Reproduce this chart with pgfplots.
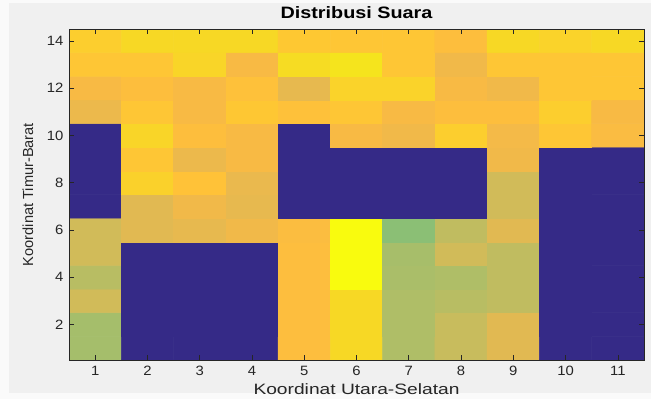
\documentclass[border=0pt]{standalone}
\usepackage{pgfplots}
\pgfplotsset{compat=1.18}
\usepackage{fontspec}
\setmainfont{Liberation Sans}
\usepackage{graphicx}
\definecolor{figbg}{RGB}{240,240,240}
\definecolor{figwhite}{RGB}{250,250,250}
\definecolor{axc}{rgb}{0.15,0.15,0.15}
\pgfplotsset{colormap={parula}{
rgb=(0.2081,0.1663,0.5292) rgb=(0.2116,0.1898,0.5777) rgb=(0.2123,0.2138,0.6270) rgb=(0.2081,0.2386,0.6771)
rgb=(0.1959,0.2645,0.7279) rgb=(0.1707,0.2919,0.7792) rgb=(0.1253,0.3242,0.8303) rgb=(0.0591,0.3598,0.8683)
rgb=(0.0117,0.3875,0.8820) rgb=(0.0060,0.4086,0.8828) rgb=(0.0165,0.4266,0.8786) rgb=(0.0329,0.4430,0.8720)
rgb=(0.0498,0.4586,0.8641) rgb=(0.0629,0.4737,0.8554) rgb=(0.0723,0.4887,0.8467) rgb=(0.0779,0.5040,0.8384)
rgb=(0.0793,0.5200,0.8312) rgb=(0.0749,0.5375,0.8263) rgb=(0.0641,0.5570,0.8240) rgb=(0.0488,0.5772,0.8228)
rgb=(0.0343,0.5966,0.8199) rgb=(0.0265,0.6137,0.8135) rgb=(0.0239,0.6287,0.8038) rgb=(0.0231,0.6418,0.7913)
rgb=(0.0228,0.6535,0.7768) rgb=(0.0267,0.6642,0.7607) rgb=(0.0384,0.6743,0.7436) rgb=(0.0590,0.6838,0.7254)
rgb=(0.0843,0.6928,0.7062) rgb=(0.1133,0.7015,0.6859) rgb=(0.1453,0.7098,0.6646) rgb=(0.1801,0.7177,0.6424)
rgb=(0.2178,0.7250,0.6193) rgb=(0.2586,0.7317,0.5954) rgb=(0.3022,0.7376,0.5712) rgb=(0.3482,0.7424,0.5473)
rgb=(0.3953,0.7459,0.5244) rgb=(0.4420,0.7481,0.5033) rgb=(0.4871,0.7491,0.4840) rgb=(0.5300,0.7491,0.4661)
rgb=(0.5709,0.7485,0.4494) rgb=(0.6099,0.7473,0.4337) rgb=(0.6473,0.7456,0.4188) rgb=(0.6834,0.7435,0.4044)
rgb=(0.7184,0.7411,0.3905) rgb=(0.7525,0.7384,0.3768) rgb=(0.7858,0.7356,0.3633) rgb=(0.8185,0.7327,0.3498)
rgb=(0.8507,0.7299,0.3360) rgb=(0.8824,0.7274,0.3217) rgb=(0.9139,0.7258,0.3063) rgb=(0.9450,0.7261,0.2886)
rgb=(0.9739,0.7314,0.2666) rgb=(0.9938,0.7455,0.2403) rgb=(0.9990,0.7653,0.2164) rgb=(0.9955,0.7861,0.1967)
rgb=(0.9880,0.8066,0.1794) rgb=(0.9789,0.8271,0.1633) rgb=(0.9697,0.8481,0.1475) rgb=(0.9626,0.8705,0.1309)
rgb=(0.9589,0.8949,0.1132) rgb=(0.9598,0.9218,0.0948) rgb=(0.9661,0.9514,0.0755) rgb=(0.9763,0.9831,0.0538)
}}
\begin{document}
\begin{tikzpicture}[x=1bp,y=1bp]
\fill[figwhite] (-69,-39) rectangle (582,360);
\fill[figbg] (-60,-33) rectangle (582,357);
\begin{axis}[
  at={(0,0)}, anchor=south west,
  scale only axis, width=575bp, height=331bp,
  xmin=0.5, xmax=11.5, ymin=0.5, ymax=14.5,
  xtick={1,...,11}, ytick={2,4,...,14},
  tick align=inside, major tick length=5bp,
  axis on top,
  axis line style={axc, line width=0.6bp},
  tick style={axc, line width=0.6bp},
  /pgf/number format/assume math mode=true,
  tick label style={font=\fontsize{13.5bp}{15bp}\selectfont, text=axc},
  xticklabel={\scalebox{1.1}[1]{\pgfmathprintnumber{\tick}}},
  yticklabel={\scalebox{1.1}[1]{\pgfmathprintnumber{\tick}}},
  xticklabel style={yshift=-3bp},
  yticklabel style={xshift=-2bp},
  title={\scalebox{1.2}[1]{Distribusi Suara}},
  title style={font=\fontsize{16.5bp}{18bp}\selectfont\bfseries, at={(axis description cs:0.5,1.0136)}, anchor=base},
  xlabel={\scalebox{1.28}[1]{Koordinat Utara-Selatan}},
  xlabel style={font=\fontsize{15bp}{16bp}\selectfont, text=axc, at={(axis description cs:0.5,-0.104)}, anchor=base},
  ylabel={Koordinat Timur-Barat},
  ylabel style={font=\fontsize{14.6bp}{16bp}\selectfont, text=axc, at={(axis description cs:-0.0626,0.5)}, anchor=base},
  colormap name=parula, point meta min=0, point meta max=1,
]
\addplot[matrix plot*, draw=mapped color, line width=0.5bp, mesh/cols=11, point meta=explicit] table[meta=v] {
x y v
1 1 0.667
2 1 0
3 1 0
4 1 0
5 1 0.84
6 1 0.921
7 1 0.683
8 1 0.73
9 1 0.778
10 1 0
11 1 0
1 2 0.667
2 2 0
3 2 0
4 2 0
5 2 0.84
6 2 0.921
7 2 0.683
8 2 0.73
9 2 0.778
10 2 0
11 2 0
1 3 0.746
2 3 0
3 3 0
4 3 0
5 3 0.84
6 3 0.921
7 3 0.683
8 3 0.70
9 3 0.714
10 3 0
11 3 0
1 4 0.70
2 4 0
3 4 0
4 4 0
5 4 0.84
6 4 1.0
7 4 0.675
8 4 0.683
9 4 0.714
10 4 0
11 4 0
1 5 0.746
2 5 0
3 5 0
4 5 0
5 5 0.84
6 5 1.0
7 5 0.67
8 5 0.746
9 5 0.714
10 5 0
11 5 0
1 6 0.746
2 6 0.778
3 6 0.79
4 6 0.81
5 6 0.835
6 6 1.0
7 6 0.625
8 6 0.714
9 6 0.778
10 6 0
11 6 0
1 7 0
2 7 0.778
3 7 0.81
4 7 0.79
5 7 0
6 7 0
7 7 0
8 7 0
9 7 0.746
10 7 0
11 7 0
1 8 0
2 8 0.90
3 8 0.855
4 8 0.795
5 8 0
6 8 0
7 8 0
8 8 0
9 8 0.746
10 8 0
11 8 0
1 9 0
2 9 0.865
3 9 0.80
4 9 0.825
5 9 0
6 9 0
7 9 0
8 9 0
9 9 0.81
10 9 0
11 9 0
1 10 0
2 10 0.91
3 10 0.841
4 10 0.825
5 10 0
6 10 0.825
7 10 0.81
8 10 0.889
9 10 0.815
10 10 0.865
11 10 0.83
1 11 0.80
2 11 0.865
3 11 0.825
4 11 0.87
5 11 0.85
6 11 0.865
7 11 0.825
8 11 0.841
9 11 0.841
10 11 0.889
11 11 0.825
1 12 0.825
2 12 0.841
3 12 0.825
4 12 0.85
5 12 0.79
6 12 0.905
7 12 0.905
8 12 0.825
9 12 0.81
10 12 0.865
11 12 0.865
1 13 0.865
2 13 0.865
3 13 0.91
4 13 0.825
5 13 0.93
6 13 0.952
7 13 0.865
8 13 0.81
9 13 0.865
10 13 0.865
11 13 0.865
1 14 0.889
2 14 0.921
3 14 0.921
4 14 0.921
5 14 0.873
6 14 0.865
7 14 0.865
8 14 0.841
9 14 0.921
10 14 0.905
11 14 0.921
};
\end{axis}
\pgfresetboundingbox
\useasboundingbox (-69,-39) rectangle (582,360);
\end{tikzpicture}
\end{document}
